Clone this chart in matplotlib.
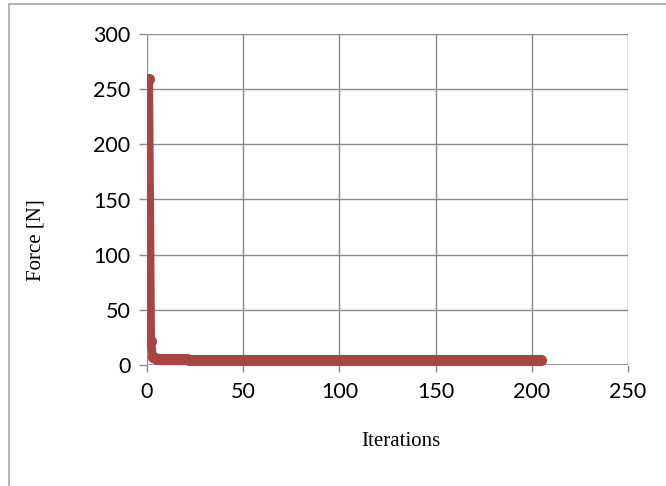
import numpy as np
import matplotlib.pyplot as plt
from matplotlib.patches import Rectangle

# force per iteration
force = [
    259.0, 22.0, 7.5, 6.2, 5.8, 5.6, 5.5, 5.4, 5.3, 5.3,
    5.2, 5.2, 5.2, 5.1, 5.1, 5.1, 5.0, 5.0, 5.0, 5.0,
    5.0, 4.9, 4.9, 4.9, 4.9, 4.9, 4.9, 4.8, 4.8, 4.8,
    4.8, 4.8, 4.8, 4.8, 4.8, 4.7, 4.7, 4.7, 4.7, 4.7,
    4.7, 4.7, 4.7, 4.7, 4.7, 4.7, 4.7, 4.7, 4.6, 4.6,
    4.6, 4.6, 4.6, 4.6, 4.6, 4.6, 4.6, 4.6, 4.6, 4.6,
    4.6, 4.6, 4.6, 4.6, 4.6, 4.6, 4.6, 4.6, 4.6, 4.6,
    4.6, 4.6, 4.6, 4.6, 4.6, 4.6, 4.6, 4.6, 4.6, 4.6,
    4.5, 4.5, 4.5, 4.5, 4.5, 4.5, 4.5, 4.5, 4.5, 4.5,
    4.5, 4.5, 4.5, 4.5, 4.5, 4.5, 4.5, 4.5, 4.5, 4.5,
    4.5, 4.5, 4.5, 4.5, 4.5, 4.5, 4.5, 4.5, 4.5, 4.5,
    4.5, 4.5, 4.5, 4.5, 4.5, 4.5, 4.5, 4.5, 4.5, 4.5,
    4.5, 4.5, 4.5, 4.5, 4.5, 4.5, 4.5, 4.5, 4.5, 4.5,
    4.5, 4.5, 4.5, 4.5, 4.5, 4.5, 4.5, 4.5, 4.5, 4.5,
    4.5, 4.5, 4.5, 4.5, 4.5, 4.5, 4.5, 4.5, 4.5, 4.5,
    4.5, 4.5, 4.5, 4.5, 4.5, 4.5, 4.5, 4.5, 4.5, 4.5,
    4.4, 4.4, 4.4, 4.4, 4.4, 4.4, 4.4, 4.4, 4.4, 4.4,
    4.4, 4.4, 4.4, 4.4, 4.4, 4.4, 4.4, 4.4, 4.4, 4.4,
    4.4, 4.4, 4.4, 4.4, 4.4, 4.4, 4.4, 4.4, 4.4, 4.4,
    4.4, 4.4, 4.4, 4.4, 4.4, 4.4, 4.4, 4.4, 4.4, 4.4,
    4.4, 4.4, 4.4, 4.4, 4.4,
]
iterations = list(range(1, len(force) + 1))

xticks = [0, 50, 100, 150, 200, 250]
yticks = [0, 50, 100, 150, 200, 250, 300]

red = "#a84441"
grid_c = "#8c8c8c"

fig = plt.figure(figsize=(6.66, 4.86), dpi=100)
fig.patches.append(Rectangle((9 / 666, -0.1), 1.2, 1 - 4 / 486 + 0.1,
                             transform=fig.transFigure, fill=False,
                             edgecolor="#a6a6a6", lw=1.2))

ax = fig.add_axes([147 / 666, 1 - 365 / 486, (628 - 147) / 666, (365 - 34) / 486])
ax.plot(iterations, force, color=red, lw=6, marker="o", ms=7,
        solid_capstyle="round", solid_joinstyle="round", zorder=3)

ax.set_xlim(0, 250)
ax.set_ylim(0, 300)
ax.set_xticks(xticks)
ax.set_yticks(yticks)
ax.grid(True, color=grid_c, lw=1.0)
for s in ax.spines.values():
    s.set_visible(False)
ax.axhline(0, color=grid_c, lw=1.2, zorder=2)
ax.axvline(0, color=grid_c, lw=1.2, zorder=2)
ax.tick_params(axis="x", length=5, color=grid_c, width=1.0, direction="out", pad=7)
ax.tick_params(axis="y", length=6, color=grid_c, width=1.0, direction="out", pad=6)
for lab in ax.get_xticklabels() + ax.get_yticklabels():
    lab.set_fontfamily("Lato")
    lab.set_fontsize(15.5)

ax.set_xlabel("Iterations", fontfamily="Liberation Serif", fontsize=15)
ax.set_ylabel("Force [N]", fontfamily="Liberation Serif", fontsize=15)
ax.xaxis.set_label_coords(401 / 666, 1 - 441 / 486, transform=fig.transFigure)
ax.yaxis.set_label_coords(36 / 666, 1 - 240 / 486, transform=fig.transFigure)
ax.xaxis.label.set_va("center")
ax.yaxis.label.set_va("center")

fig.savefig("out.png", dpi=100)
